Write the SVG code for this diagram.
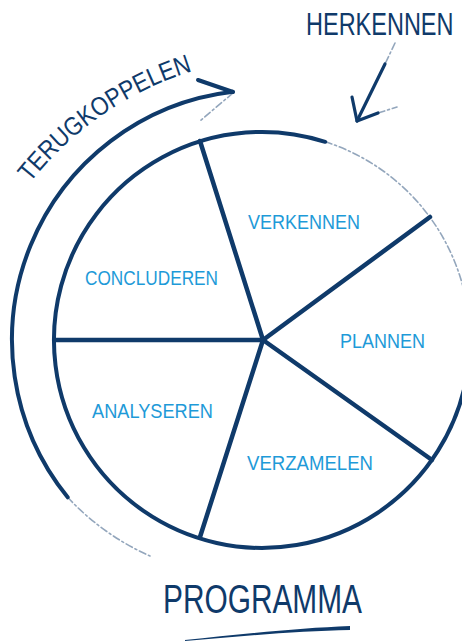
<svg xmlns="http://www.w3.org/2000/svg" width="462" height="641" viewBox="0 0 462 641">
  <style>
    .ink { fill: none; stroke: #0f3a6a; stroke-linecap: round; stroke-linejoin: round; }
    .solid { stroke-width: 4; }
    .spoke { stroke-width: 4.5; }
    .faint { stroke-width: 1.6; opacity: 0.45; stroke-dasharray: 7 3 2 3; }
    .lbl { font-family: "Liberation Sans", Arial, sans-serif; font-size: 21px; fill: #1e9ad8; }
    .title { font-family: "Liberation Sans", Arial, sans-serif; fill: #0f3a6a; }
  </style>
  <defs>
    <path id="tkPath" d="M-21.9,275.8 A334,334 0 0 1 297.8,56.05"/>
  </defs>
  <rect width="462" height="641" fill="#ffffff"/>

  <g id="connectors">
    <!-- main circle -->
    <path class="ink solid" d="M466.8,376.1 A208,208 0 1 1 325.2,141.8"/>
    <path class="ink faint" d="M325.2,141.8 A208,208 0 0 1 466.8,376.1"/>
    <!-- spokes -->
    <line class="ink spoke" x1="263" y1="340" x2="200" y2="141"/>
    <line class="ink spoke" x1="263" y1="340" x2="430" y2="217"/>
    <line class="ink spoke" x1="263" y1="340" x2="55" y2="340"/>
    <line class="ink spoke" x1="263" y1="340" x2="200" y2="537"/>
    <line class="ink spoke" x1="263" y1="340" x2="432" y2="460"/>
    <!-- terugkoppelen arrow -->
    <path class="ink solid" d="M67.7,497.3 A250,250 0 0 1 232.8,91.7"/>
    <path class="ink faint" d="M67.7,497.3 A250,250 0 0 0 150,556"/>
    <path class="ink solid" d="M198,80 L233,92"/>
    <path class="ink faint" d="M233,93 L200,121"/>
    <!-- herkennen arrow -->
    <path class="ink faint" d="M395,43 L385,64"/>
    <path class="ink" stroke-width="3.2" d="M385,64 L357,121"/>
    <path class="ink" stroke-width="3.2" d="M352,97 L357,121 L378,113"/>
    <path class="ink faint" d="M378,113 L397,107"/>
    <!-- programma underline -->
    <path d="M185,640 C240,634 300,628 350,626 L350,630 C300,631 240,636 185,641 Z" fill="#0f3a6a"/>
  </g>

  <g id="herkennen"><text class="title" transform="translate(306,35) scale(1,1.33)" x="0" y="0" font-size="23.5">HERKENNEN</text></g>
  <g id="terugkoppelen">
    <text class="title" font-size="26"><textPath href="#tkPath" startOffset="50%" text-anchor="middle" textLength="200" lengthAdjust="spacingAndGlyphs">TERUGKOPPELEN</textPath></text>
  </g>
  <g id="verkennen"><text class="lbl" x="248" y="229" textLength="112" lengthAdjust="spacingAndGlyphs">VERKENNEN</text></g>
  <g id="concluderen"><text class="lbl" x="85" y="285" textLength="133" lengthAdjust="spacingAndGlyphs">CONCLUDEREN</text></g>
  <g id="plannen"><text class="lbl" x="340" y="348" textLength="85" lengthAdjust="spacingAndGlyphs">PLANNEN</text></g>
  <g id="analyseren"><text class="lbl" x="92" y="418" textLength="121" lengthAdjust="spacingAndGlyphs">ANALYSEREN</text></g>
  <g id="verzamelen"><text class="lbl" x="247" y="470" textLength="126" lengthAdjust="spacingAndGlyphs">VERZAMELEN</text></g>
  <g id="programma"><text class="title" x="163" y="613" font-size="40" textLength="199" lengthAdjust="spacingAndGlyphs">PROGRAMMA</text></g>
</svg>
